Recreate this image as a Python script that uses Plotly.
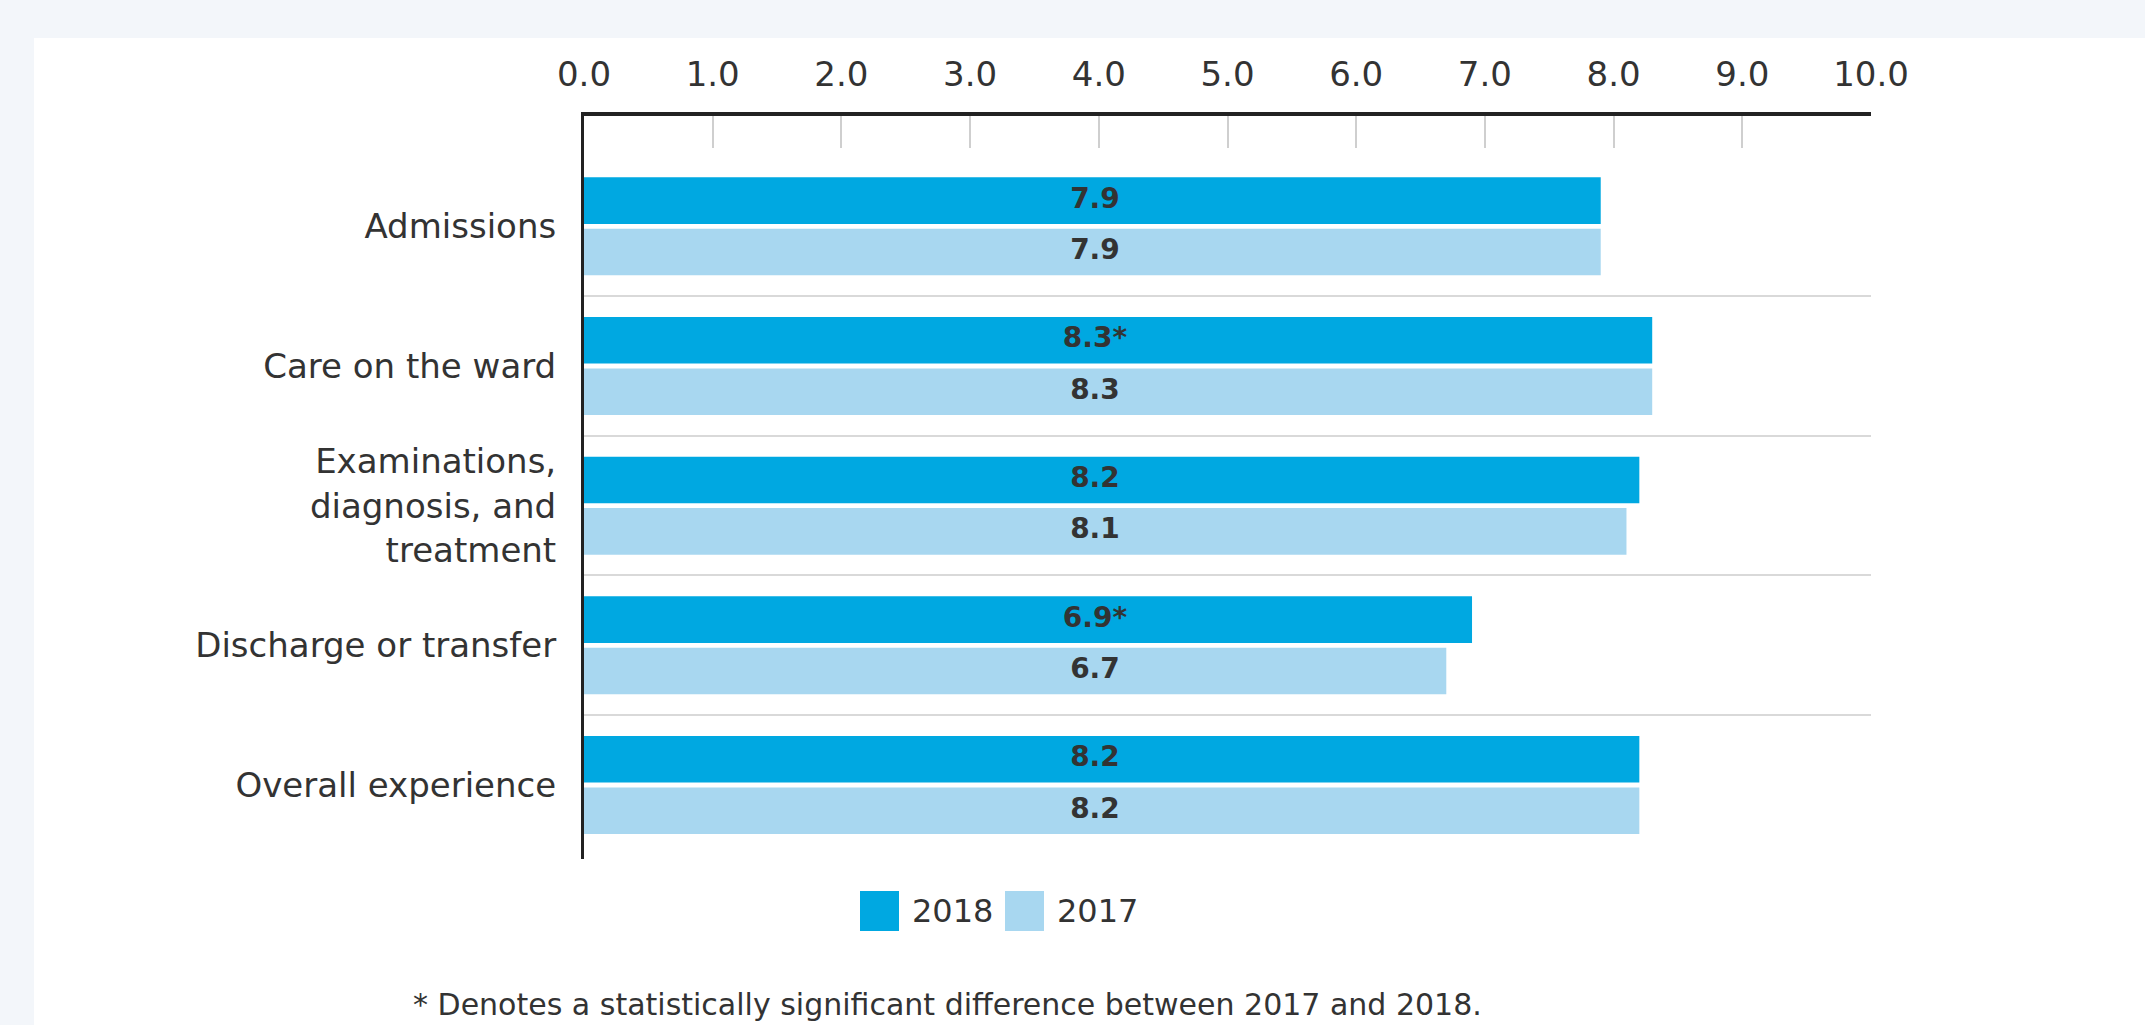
import plotly.graph_objects as go

# ---- data ----
categories = ["Admissions", "Care on the ward", "Examinations,<br>diagnosis, and<br>treatment",
              "Discharge or transfer", "Overall experience"]
series_names = ["2018", "2017"]
values_2018 = [7.9, 8.3, 8.2, 6.9, 8.2]
values_2017 = [7.9, 8.3, 8.1, 6.7, 8.2]
significant_2018 = [False, True, False, True, False]
x_tick_values = [0, 1, 2, 3, 4, 5, 6, 7, 8, 9, 10]
footnote = "* Denotes a statistically significant difference between 2017 and 2018."

labels_2018 = [f"{v:.1f}" + ("*" if s else "") for v, s in zip(values_2018, significant_2018)]
labels_2017 = [f"{v:.1f}" for v in values_2017]
positions = list(range(len(categories)))

# ---- style ----
W, H = 2145, 1025
L, R, T, B = 584, 274, 116, 166
PW, PH = W - L - R, H - T - B
C2018 = "#00a8e1"
C2017 = "#a8d7f0"
TXT = "#333333"
FONT = "DejaVu Sans"


def px_x(x):
    return (x - L) / PW


def px_y(y):
    return (H - B - y) / PH


fig = go.Figure()
fig.add_trace(go.Bar(y=positions, x=values_2018, orientation="h", name=series_names[0],
                     marker=dict(color=C2018, line=dict(width=0)), showlegend=False, hoverinfo="skip"))
fig.add_trace(go.Bar(y=positions, x=values_2017, orientation="h", name=series_names[1],
                     marker=dict(color=C2017, line=dict(width=0)), showlegend=False, hoverinfo="skip"))

label_x = 3.97
fig.add_trace(go.Scatter(y=positions, x=[label_x] * len(positions), mode="text", text=labels_2018,
                         orientation="h", textposition="middle center", cliponaxis=False,
                         textfont=dict(family=FONT, size=28, color=TXT, weight="bold"),
                         showlegend=False, hoverinfo="skip"))
fig.add_trace(go.Scatter(y=positions, x=[label_x] * len(positions), mode="text", text=labels_2017,
                         orientation="h", textposition="middle center", cliponaxis=False,
                         textfont=dict(family=FONT, size=28, color=TXT, weight="bold"),
                         showlegend=False, hoverinfo="skip"))

shapes = [
    # white panel
    dict(type="rect", xref="paper", yref="paper", x0=px_x(34), x1=px_x(W + 5), y0=px_y(H + 5), y1=px_y(38),
         fillcolor="white", line=dict(width=0), layer="below"),
    # manual legend swatches
    dict(type="rect", xref="paper", yref="paper", x0=px_x(860), x1=px_x(899), y0=px_y(931), y1=px_y(891),
         fillcolor=C2018, line=dict(width=0)),
    dict(type="rect", xref="paper", yref="paper", x0=px_x(1005), x1=px_x(1044), y0=px_y(931), y1=px_y(891),
         fillcolor=C2017, line=dict(width=0)),
]

annotations = [
    dict(text=series_names[0], xref="paper", yref="paper", x=px_x(910), y=px_y(911), xanchor="left",
         yanchor="middle", showarrow=False, font=dict(family=FONT, size=32, color=TXT)),
    dict(text=series_names[1], xref="paper", yref="paper", x=px_x(1055), y=px_y(911), xanchor="left",
         yanchor="middle", showarrow=False, font=dict(family=FONT, size=32, color=TXT)),
    dict(text=footnote, xref="paper", yref="paper", x=px_x(947), y=px_y(1004), xanchor="center",
         yanchor="middle", showarrow=False, font=dict(family=FONT, size=30, color=TXT)),
]

fig.update_layout(
    width=W, height=H,
    margin=dict(l=L, r=R, t=T, b=B, pad=0),
    paper_bgcolor="#f3f6fa",
    plot_bgcolor="white",
    barmode="group", bargap=0.264, bargroupgap=0.094,
    scattermode="group", scattergap=0.264,
    shapes=shapes, annotations=annotations,
    showlegend=False,
    font=dict(family=FONT, color=TXT),
    xaxis=dict(side="top", range=[0, 10], tickvals=x_tick_values, tickformat=".1f",
               showgrid=False, zeroline=False, showline=True, linecolor="#222222", linewidth=4,
               ticks="inside", ticklen=32, tickwidth=1.5, tickcolor="#cfcfcf",
               tickfont=dict(family=FONT, size=34, color=TXT), ticklabelstandoff=12, fixedrange=True),
    yaxis=dict(range=[4.53, -0.79], tickvals=positions, ticktext=categories,
               showgrid=False, zeroline=False, showline=True, linecolor="#222222", linewidth=3,
               ticks="", tickfont=dict(family=FONT, size=34, color=TXT), ticklabelstandoff=18,
               minor=dict(tickvals=[0.5, 1.5, 2.5, 3.5], showgrid=True, gridcolor="#d9d9d9",
                          gridwidth=2, ticks=""),
               fixedrange=True),
)

fig.write_html("out.html")
